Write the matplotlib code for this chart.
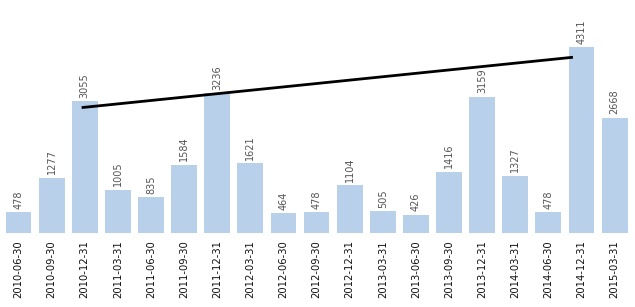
import matplotlib
matplotlib.use('Agg')
import matplotlib.pyplot as plt
import numpy as np

# quarterly values (2014-09-30 is missing in the source)
quarters = ['2010-06-30', '2010-09-30', '2010-12-31', '2011-03-31', '2011-06-30',
            '2011-09-30', '2011-12-31', '2012-03-31', '2012-06-30', '2012-09-30',
            '2012-12-31', '2013-03-31', '2013-06-30', '2013-09-30', '2013-12-31',
            '2014-03-31', '2014-06-30', '2014-12-31', '2015-03-31']
values = [478, 1277, 3055, 1005, 835, 1584, 3236, 1621, 464, 478,
          1104, 505, 426, 1416, 3159, 1327, 478, 4311, 2668]

# trend line through the year-end quarters (x in bar index units)
trend_x = [1.95, 16.7]
trend_y = [2910, 4070]

fig = plt.figure(figsize=(6.35, 3.07), dpi=100)
ax = fig.add_axes([0.003, 0.241, 0.991, 0.759])

x = np.arange(len(values))
ax.bar(x, values, width=0.78, color='#b8d0ea')
for xi, v in zip(x, values):
    ax.text(xi, v + 80, str(v), rotation=90, ha='center', va='bottom',
            fontsize=7, color='#555555')

ax.plot(trend_x, trend_y, color='black', linewidth=2)

ax.set_xlim(-0.5, len(values) - 0.5)
ax.set_ylim(0, 5400)
ax.set_xticks(x)
ax.set_xticklabels(quarters, rotation=90, fontsize=7.2, color='#111111')
ax.tick_params(axis='x', length=0, pad=5)
ax.set_yticks([])
for s in ax.spines.values():
    s.set_visible(False)

fig.savefig('out.png', dpi=100)
